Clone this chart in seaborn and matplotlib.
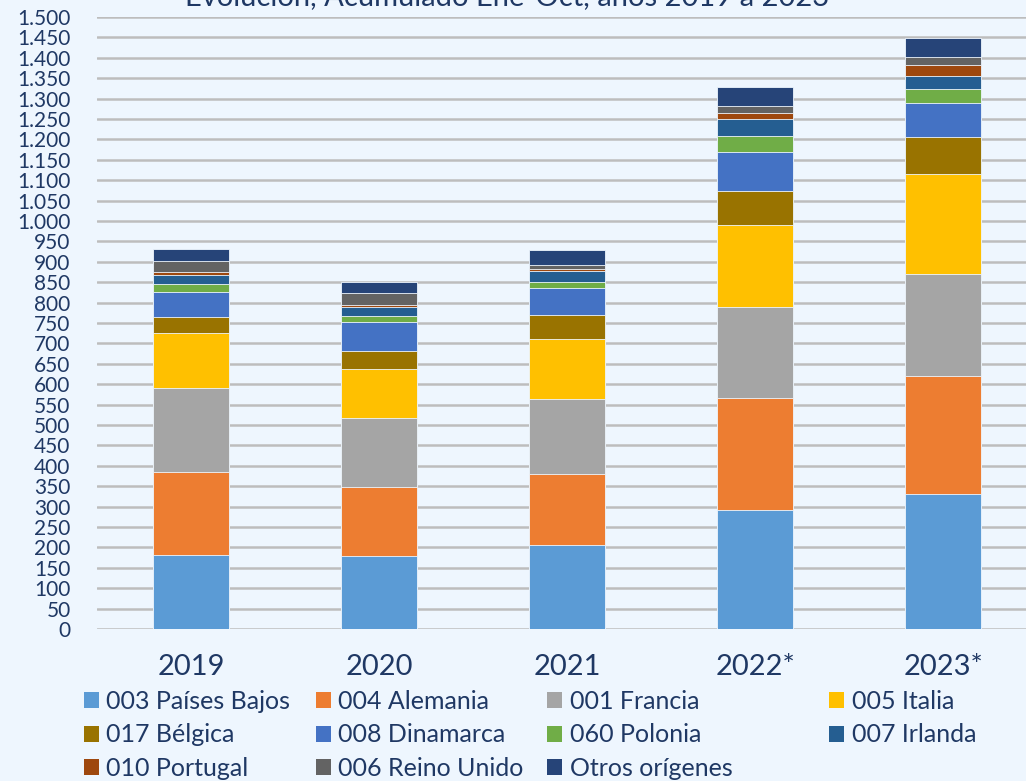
import matplotlib
matplotlib.use("Agg")
import matplotlib.pyplot as plt
import seaborn as sns
import pandas as pd
import numpy as np
from matplotlib.patches import Patch
from matplotlib.ticker import FuncFormatter, MultipleLocator

years = ["2019", "2020", "2021", "2022*", "2023*"]
series = ["003 Países Bajos", "004 Alemania", "001 Francia", "005 Italia",
          "017 Bélgica", "008 Dinamarca", "060 Polonia", "007 Irlanda",
          "010 Portugal", "006 Reino Unido", "Otros orígenes"]
paises_bajos = [181, 178, 205, 292, 332]
alemania     = [204, 170, 174, 273, 289]
francia      = [206, 168, 184, 224, 250]
italia       = [135, 122, 148, 202, 243]
belgica      = [38, 44, 58, 83, 91]
dinamarca    = [63, 70, 66, 95, 84]
polonia      = [19, 16, 16, 39, 34]
irlanda      = [21, 20, 26, 41, 32]
portugal     = [7, 6, 6, 15, 28]
reino_unido  = [29, 29, 10, 18, 19]
otros        = [28, 28, 35, 47, 46]
colors = ["#5B9BD5", "#ED7D31", "#A5A5A5", "#FFC000", "#997300", "#4472C4",
          "#70AD47", "#255E91", "#9E480E", "#636363", "#264478"]

values = [paises_bajos, alemania, francia, italia, belgica, dinamarca,
          polonia, irlanda, portugal, reino_unido, otros]

bg = "#EEF6FE"
navy = "#1F3864"

sns.set_theme(style="white")
plt.rcParams['font.family'] = ['Lato', 'DejaVu Sans']

W, H = 1026, 781
fig = plt.figure(figsize=(W / 100, H / 100), dpi=100, facecolor=bg)
ax = fig.add_axes([97 / W, 1 - 629 / H, 1 - 97 / W, (629 - 17) / H])
ax.set_facecolor(bg)

cum = np.cumsum(np.array(values), axis=0)
rows = []
for i, s in enumerate(series):
    for j, y in enumerate(years):
        rows.append({"year": y, "series": s, "cum": cum[i, j]})
df = pd.DataFrame(rows)

for i in range(len(series) - 1, -1, -1):
    sub = df[df["series"] == series[i]]
    sns.barplot(data=sub, x="year", y="cum", order=years, color=colors[i],
                width=0.405, saturation=1, ax=ax, zorder=3,
                edgecolor=bg, linewidth=0.6)

ax.set_ylim(0, 1500)
ax.set_xlim(-0.5, 4.44)
ax.yaxis.set_major_locator(MultipleLocator(50))
ax.yaxis.set_major_formatter(FuncFormatter(lambda v, p: f"{int(v):,}".replace(",", ".")))
ax.grid(axis="y", color="#BDBDBD", linewidth=1.8, zorder=0)
ax.set_axisbelow(True)
for sp in ax.spines.values():
    sp.set_visible(False)
ax.tick_params(axis="y", length=0, pad=19, labelsize=15, labelcolor=navy)
ax.tick_params(axis="x", length=0, pad=18, labelsize=21, labelcolor=navy)
ax.set_xlabel("")
ax.set_ylabel("")

fig.text(0.494, 1 - 5 / H, "Evolución, Acumulado Ene-Oct, años 2019 a 2023",
         ha="center", va="baseline", fontsize=21, color=navy)

handles = [Patch(facecolor=c, edgecolor="none") for c in colors]
col_x = [84, 316, 547, 829]
col_items = [[0, 4, 8], [1, 5, 9], [2, 6, 10], [3, 7]]
for cx, items in zip(col_x, col_items):
    leg = fig.legend([handles[k] for k in items], [series[k] for k in items],
                     loc="upper left", bbox_to_anchor=(cx / W, 1 - 690 / H),
                     frameon=False, fontsize=18, handlelength=0.6, handleheight=0.6,
                     handletextpad=0.3, labelspacing=0.42,
                     borderaxespad=0, borderpad=0)
    for t in leg.get_texts():
        t.set_color(navy)

fig.savefig("out.png", dpi=100, facecolor=bg)
